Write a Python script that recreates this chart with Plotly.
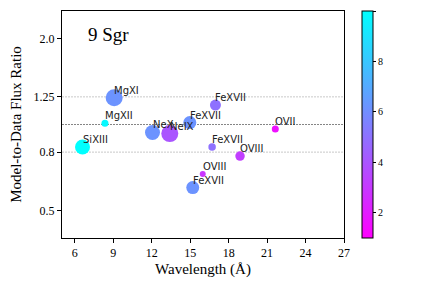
import numpy as np
import plotly.graph_objects as go

# Data
ions = ["SiXIII", "MgXII", "MgXI", "NeX", "NeIX", "FeXVII", "FeXVII", "OVIII", "FeXVII", "FeXVII", "OVIII", "OVII"]
wavelength = [6.6, 8.35, 9.07, 12.06, 13.41, 14.97, 15.2, 15.98, 16.71, 16.97, 18.89, 21.64]
flux_ratio = [0.834, 1.01, 1.24, 0.938, 0.929, 1.016, 0.601, 0.671, 0.834, 1.17, 0.775, 0.964]
color_value = [10.0, 9.8, 6.2, 6.2, 4.0, 6.2, 6.2, 2.9, 5.0, 5.0, 3.2, 1.6]
bubble_size = [15, 7, 17, 15, 17, 13, 13, 6, 7.5, 11, 9.5, 7]
target = "9 Sgr"
ref_lines = [1.25, 1.0, 0.8]
y_ticks = [0.5, 0.8, 1.25, 2.0]
y_ticklabels = ["0.5", "0.8", "1.25", "2.0"]
x_ticks = [6, 9, 12, 15, 18, 21, 24, 27]
cbar_ticks = [2, 4, 6, 8, 10]

serif = "Liberation Serif, Times New Roman, serif"
sans = "DejaVu Sans, sans-serif"

fig = go.Figure()

fig.add_trace(go.Scatter(
    x=wavelength, y=flux_ratio, mode="markers",
    marker=dict(
        size=bubble_size, color=color_value,
        colorscale=[[0, "rgb(255,0,255)"], [1, "rgb(0,255,255)"]],
        cmin=1, cmax=10, line=dict(width=0), opacity=1,
        showscale=True,
        colorbar=dict(
            thickness=11, thicknessmode="pixels",
            len=227, lenmode="pixels",
            x=1.064, xanchor="left", xpad=0,
            y=1.0, yanchor="top", ypad=0,
            outlinecolor="black", outlinewidth=1,
            tickvals=cbar_ticks, ticks="outside", ticklen=3,
            tickcolor="black",
            tickfont=dict(family=serif, size=10, color="black"),
        ),
    ),
    hoverinfo="skip", showlegend=False,
))

# reference lines
for v in ref_lines:
    fig.add_shape(type="line", xref="paper", x0=0, x1=1, yref="y",
                  y0=v, y1=v, layer="below",
                  line=dict(color="#666666" if v == 1.0 else "#bbbbbb",
                            width=0.8, dash="2px,1px"))

# labels
for name, xv, yv in zip(ions, wavelength, flux_ratio):
    fig.add_annotation(x=xv, y=np.log10(yv), text=name, showarrow=False,
                       xanchor="left", yanchor="bottom", xshift=-1, yshift=1,
                       borderpad=0,
                       font=dict(family=sans, size=10, color="#222222"))

fig.add_annotation(xref="paper", yref="paper", x=0.085, y=0.895, text=target,
                   showarrow=False, xanchor="left", yanchor="middle",
                   font=dict(family=serif, size=19, color="black"))

fig.update_xaxes(range=[5, 27], tickvals=x_ticks, ticks="outside", ticklen=4,
                 tickcolor="black", showgrid=False, zeroline=False,
                 showline=True, linecolor="black", linewidth=1, mirror=True,
                 tickfont=dict(family=serif, size=12, color="black"),
                 title=dict(text="Wavelength (Å)", standoff=4,
                            font=dict(family=serif, size=15, color="black")))
fig.update_yaxes(type="log", range=[np.log10(0.4), np.log10(2.5)],
                 tickvals=y_ticks, ticktext=y_ticklabels, ticks="outside",
                 ticklen=4, tickcolor="black", showgrid=False, zeroline=False,
                 showline=True, linecolor="black", linewidth=1, mirror=True,
                 tickfont=dict(family=serif, size=12, color="black"),
                 title=dict(text="Model-to-Data Flux Ratio", standoff=8,
                            font=dict(family=serif, size=15, color="black")))

# page body has an 8px margin, so compensate
fig.update_layout(width=424, height=280,
                  margin=dict(l=54, r=88, t=3, b=50),
                  paper_bgcolor="white", plot_bgcolor="white")

fig.write_html("out.html")
